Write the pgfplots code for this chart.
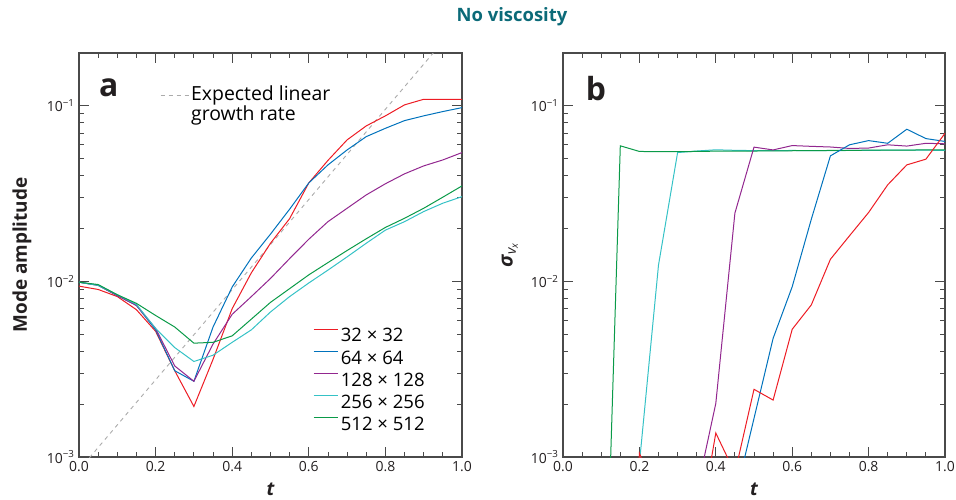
\documentclass[border=0pt]{standalone}
\usepackage{fontspec}
\setmainfont{Open Sans}
\usepackage{pgfplots}
\pgfplotsset{compat=1.18}
\definecolor{myred}{HTML}{ED1C24}
\definecolor{myblue}{HTML}{0072BC}
\definecolor{mypurple}{HTML}{92278F}
\definecolor{mycyan}{HTML}{35C2C6}
\definecolor{mygreen}{HTML}{0A9A48}
\definecolor{myteal}{HTML}{0B6A78}
\definecolor{myaxis}{HTML}{4A4A4A}
\definecolor{mydash}{HTML}{ABABAB}
\definecolor{mytext}{HTML}{231F20}

\pgfplotsset{
    scale only axis, height=404bp,
    xmin=0, xmax=1, ymin=1e-3, ymax=0.2,
    xtick={0,0.2,0.4,0.6,0.8,1},
    xticklabels={0.0,0.2,0.4,0.6,0.8,1.0},
    minor xtick={0.05,0.1,0.15,0.25,0.3,0.35,0.45,0.5,0.55,0.65,0.7,0.75,0.85,0.9,0.95},
    ytick={0.001,0.01,0.1},
    yticklabels={10\textsuperscript{−3},10\textsuperscript{−2},10\textsuperscript{−1}},
    minor ytick={0.002,0.003,0.004,0.005,0.006,0.007,0.008,0.009,0.02,0.03,0.04,0.05,0.06,0.07,0.08,0.09,0.2},
    tick align=inside,
    major tick length=10bp, minor tick length=5bp,
    axis line style={myaxis, line width=1.1bp},
    every tick/.style={myaxis, line width=0.9bp},
    tick label style={font=\fontsize{14}{16}\selectfont, text=mytext},
    yticklabel style={xshift=-1bp},
    xticklabel style={yshift=-1bp},
    xlabel={\bfseries\itshape t},
    xlabel style={at={(axis description cs:0.5,-0.08)}, anchor=center, font=\fontsize{19}{22}\selectfont, text=mytext},
}

\begin{document}
\begin{tikzpicture}
\path[use as bounding box] (0,0) rectangle (956bp,500bp);
\node[font=\bfseries\fontsize{18.5}{20}\selectfont, text=myteal] at (512bp,483bp) {No viscosity};

% ---------------- Panel a
\begin{semilogyaxis}[width=383bp, at={(79bp,43bp)}, anchor=south west,
  ylabel={Mode amplitude},
  ylabel style={at={(axis description cs:-0.149,0.5)}, anchor=center, font=\bfseries\fontsize{19}{22}\selectfont, text=mytext},
  legend image post style={xscale=1.45, yshift=6.5bp},
  legend cell align=left,
  legend style={at={(rel axis cs:0.611,0.321)}, anchor=north west, draw=none, fill=none, inner sep=0pt,
    font=\fontsize{18.6}{20}\selectfont, row sep=5.2bp,
    nodes={inner ysep=1bp}},
]
\addplot[forget plot, color=mydash, line width=0.9bp, dash pattern=on 4bp off 4bp] coordinates {(0,8.43e-4) (1,0.312)};
\addplot[color=myred, line width=1bp] coordinates {
(0.00,0.0094) (0.05,0.0090) (0.10,0.0082) (0.15,0.0069) (0.20,0.0052) (0.25,0.0031)
(0.30,0.00194) (0.35,0.0036) (0.40,0.0070) (0.45,0.0112) (0.50,0.0165) (0.55,0.0228)
(0.60,0.0364) (0.65,0.0489) (0.70,0.0640) (0.75,0.0769) (0.80,0.0877) (0.85,0.1013)
(0.90,0.109) (0.95,0.109) (1.00,0.109)};
\addlegendentry{32 × 32}
\addplot[color=myblue, line width=1bp] coordinates {
(0.00,0.0099) (0.05,0.0095) (0.10,0.0083) (0.15,0.0073) (0.20,0.0053) (0.25,0.0031)
(0.30,0.0027) (0.35,0.0055) (0.40,0.0093) (0.45,0.0136) (0.50,0.0186) (0.55,0.0258)
(0.60,0.0364) (0.65,0.0461) (0.70,0.0561) (0.75,0.0668) (0.80,0.0745) (0.85,0.0824)
(0.90,0.0877) (0.95,0.0928) (1.00,0.0977)};
\addlegendentry{64 × 64}
\addplot[color=mypurple, line width=1bp] coordinates {
(0.00,0.0099) (0.05,0.0095) (0.10,0.0083) (0.15,0.0073) (0.20,0.0054) (0.25,0.0033)
(0.30,0.0027) (0.35,0.0044) (0.40,0.0065) (0.45,0.0082) (0.50,0.0104) (0.55,0.0135)
(0.60,0.0174) (0.65,0.0219) (0.70,0.0261) (0.75,0.0311) (0.80,0.0360) (0.85,0.0410)
(0.90,0.0455) (0.95,0.0492) (1.00,0.0542)};
\addlegendentry{128 × 128}
\addplot[color=mycyan, line width=1bp] coordinates {
(0.00,0.0099) (0.05,0.0095) (0.10,0.0084) (0.15,0.0074) (0.20,0.0054) (0.25,0.0042)
(0.30,0.0035) (0.35,0.0038) (0.40,0.0045) (0.45,0.0053) (0.50,0.0067) (0.55,0.0082)
(0.60,0.0098) (0.65,0.0116) (0.70,0.0138) (0.75,0.0165) (0.80,0.0196) (0.85,0.0219)
(0.90,0.0250) (0.95,0.0279) (1.00,0.0304)};
\addlegendentry{256 × 256}
\addplot[color=mygreen, line width=1bp] coordinates {
(0.00,0.0099) (0.05,0.0096) (0.10,0.0084) (0.15,0.0075) (0.20,0.0064) (0.25,0.0055)
(0.30,0.00445) (0.35,0.0045) (0.40,0.0049) (0.45,0.0061) (0.50,0.0076) (0.55,0.0091)
(0.60,0.0109) (0.65,0.0128) (0.70,0.0150) (0.75,0.0175) (0.80,0.0203) (0.85,0.0229)
(0.90,0.0261) (0.95,0.0302) (1.00,0.0350)};
\addlegendentry{512 × 512}
\node[font=\bfseries\fontsize{32}{32}\selectfont, text=mytext] at (rel axis cs:0.078,0.913) {a};
\end{semilogyaxis}

% ---------------- Panel a: legend of the expected growth line
\begin{semilogyaxis}[width=383bp, hide axis, at={(79bp,43bp)}, anchor=south west,
  legend image post style={xscale=1.65, yshift=8bp},
  legend cell align=left,
  legend style={at={(rel axis cs:0.2115,0.923)}, anchor=north west, draw=none, fill=none, inner sep=0pt,
    font=\fontsize{19.5}{20.5}\selectfont, cells={align=left},
    nodes={inner ysep=1bp}},
]
\addlegendimage{color=mydash, line width=0.9bp, dash pattern=on 4bp off 4bp}
\addlegendentry{Expected linear\\growth rate}
\end{semilogyaxis}

% ---------------- Panel b
\begin{semilogyaxis}[width=382bp, at={(563bp,43bp)}, anchor=south west,
  ylabel={{\bfseries\itshape σ}\textsubscript{\itshape v\textsubscript{x}}},
  ylabel style={at={(axis description cs:-0.139,0.5)}, anchor=center, font=\fontsize{20}{22}\selectfont, text=mytext},
]
\addplot[color=mycyan, line width=1bp] coordinates {
(0.15,1e-5) (0.20,9.2e-4) (0.25,0.0124) (0.30,0.0542) (0.35,0.0553) (0.40,0.0562)
(0.45,0.0558) (0.50,0.0556) (0.55,0.0556) (0.60,0.0557) (0.65,0.0556) (0.70,0.0556)
(0.75,0.0557) (0.80,0.0558) (0.85,0.0559) (0.90,0.0559) (0.95,0.0559) (1.00,0.0558)};
\addplot[color=mygreen, line width=1bp] coordinates {
(0.10,1.8e-5) (0.15,0.0592) (0.20,0.0550) (0.25,0.0548) (0.30,0.0548) (0.35,0.0550)
(0.40,0.0552) (0.45,0.0553) (0.50,0.0553) (0.55,0.0554) (0.60,0.0555) (0.65,0.0556)
(0.70,0.0557) (0.75,0.0558) (0.80,0.0559) (0.85,0.0560) (0.90,0.0560) (0.95,0.0561) (1.00,0.0561)};
\addplot[color=mypurple, line width=1bp] coordinates {
(0.30,1e-5) (0.35,6.3e-4) (0.40,0.00202) (0.45,0.0245) (0.50,0.0582) (0.55,0.0561)
(0.60,0.0594) (0.65,0.0588) (0.70,0.0583) (0.75,0.0572) (0.80,0.0575) (0.85,0.0600)
(0.90,0.0590) (0.95,0.0612) (1.00,0.0608)};
\addplot[color=myblue, line width=1bp] coordinates {
(0.40,1e-5) (0.45,5.8e-4) (0.50,0.00166) (0.55,0.00474) (0.60,0.00933) (0.65,0.0226)
(0.70,0.0519) (0.75,0.0600) (0.80,0.0634) (0.85,0.0612) (0.90,0.0736) (0.95,0.0651) (1.00,0.0627)};
\addplot[color=myred, line width=1bp] coordinates {
(0.15,1e-5) (0.20,0.00105) (0.25,5.9e-4) (0.30,4.0e-4) (0.35,3.2e-4) (0.40,0.00137)
(0.45,8.1e-4) (0.50,0.00243) (0.55,0.00211) (0.60,0.00534) (0.65,0.00735) (0.70,0.01337)
(0.75,0.0182) (0.80,0.0247) (0.85,0.0355) (0.90,0.0461) (0.95,0.0497) (1.00,0.0698)};
\node[font=\bfseries\fontsize{32}{32}\selectfont, text=mytext] at (rel axis cs:0.086,0.913) {b};
\end{semilogyaxis}
\end{tikzpicture}
\end{document}
